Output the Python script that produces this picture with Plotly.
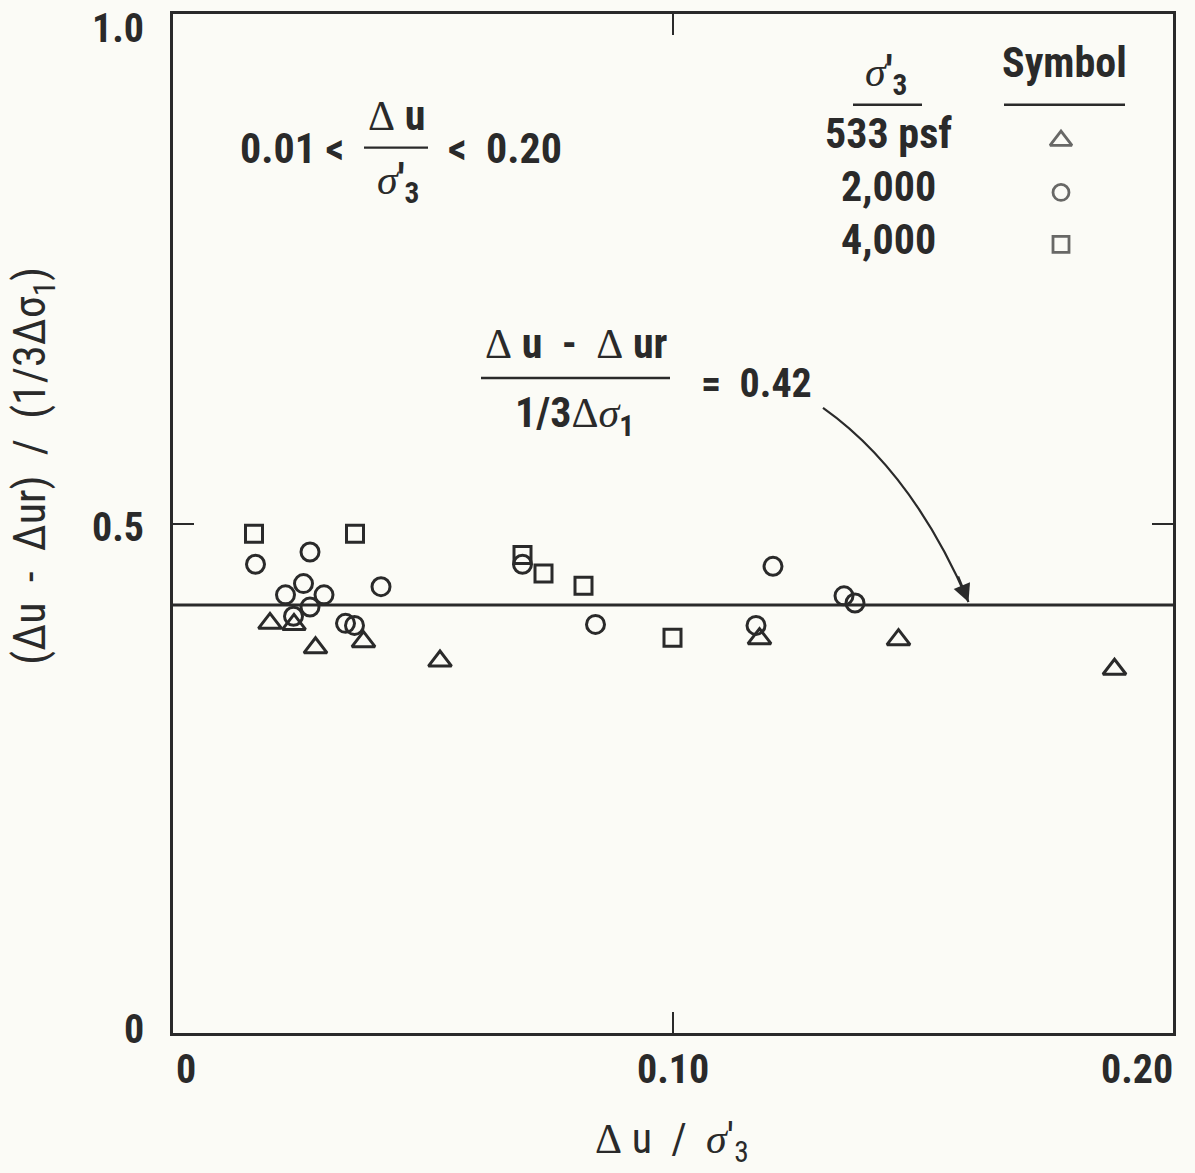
import plotly.graph_objects as go

# Δu/σ'3 (x) against (Δu - Δur)/(1/3 Δσ1) (y), grouped by confining pressure σ'3
tri_x = [0.0194, 0.0242, 0.0285, 0.0381, 0.0534, 0.1173, 0.1451, 0.1883]
tri_y = [0.402, 0.401, 0.378, 0.384, 0.365, 0.387, 0.386, 0.357]

cir_x = [0.0165, 0.0274, 0.0416, 0.0261, 0.0225, 0.0302, 0.0274, 0.0241,
         0.0345, 0.0363, 0.0699, 0.0845, 0.1200, 0.1166, 0.1342, 0.1364]
cir_y = [0.460, 0.472, 0.438, 0.441, 0.430, 0.430, 0.418, 0.409,
         0.402, 0.400, 0.460, 0.401, 0.458, 0.400, 0.429, 0.422]

sq_x = [0.0162, 0.0364, 0.0699, 0.0741, 0.0821, 0.0999]
sq_y = [0.490, 0.490, 0.469, 0.451, 0.439, 0.388]

# mean ratio drawn as a horizontal line
ratio_mean = 0.42

x_ticks = [0, 0.10, 0.20]
x_tick_text = ["0", "0.10", "0.20"]
y_ticks = [0, 0.5, 1.0]
y_tick_text = ["0", "0.5", "1.0"]

key_labels = ["533 psf", "2,000", "4,000"]
key_symbols = ["triangle-up", "circle", "square"]

INK = "#2a2a2a"
BG = "#fbfbf6"
SANS = "Roboto Condensed, Noto Sans, sans-serif"
SERIF = "Liberation Serif, DejaVu Serif, serif"

W, H = 1195, 1173
L, R, T, B = 173, 1173, 11, 1033


def px(x):
    return (x - L) / (R - L)


def py(y):
    return (B - y) / (B - T)


def serif(s, italic=False):
    s = f"<i>{s}</i>" if italic else s
    return f"<span style='font-family:{SERIF};font-weight:normal'>{s}</span>"


fig = go.Figure()

marker_line = dict(width=3, color=INK)
clear = "rgba(0,0,0,0)"
fig.add_trace(go.Scatter(x=tri_x, y=tri_y, mode="markers",
                         marker=dict(symbol="triangle-up", size=20, color=clear, line=marker_line)))
fig.add_trace(go.Scatter(x=cir_x, y=cir_y, mode="markers",
                         marker=dict(symbol="circle", size=18, color=clear, line=marker_line)))
fig.add_trace(go.Scatter(x=sq_x, y=sq_y, mode="markers",
                         marker=dict(symbol="square", size=17, color=clear, line=marker_line)))

# symbol key drawn on an overlay axis spanning the plot area
key_x = [px(1061)] * len(key_labels)
key_y = [py(138 + 52 * i) for i in range(len(key_labels))]
fig.add_trace(go.Scatter(x=key_x, y=key_y, mode="markers", xaxis="x2", yaxis="y2",
                         marker=dict(symbol=key_symbols, size=[19, 16, 16], color=clear,
                                     line=dict(width=2.8, color=INK))))

fig.add_shape(type="line", xref="x", yref="y", x0=x_ticks[0], x1=x_ticks[-1],
              y0=ratio_mean, y1=ratio_mean, line=dict(color=INK, width=3))

# curved pointer to the mean line
p0 = (0.1300, 0.6135)
c = (0.1478, 0.5519)
p2 = (0.1591, ratio_mean + 0.003)
fig.add_shape(type="path", xref="x", yref="y",
              path=f"M {p0[0]},{p0[1]} Q {c[0]},{c[1]} {p2[0]},{p2[1]}",
              line=dict(color=INK, width=2.2))

ann = []


def text(x, y, s, size=42, weight="bold", family=SANS, xanchor="center", **kw):
    ann.append(dict(x=px(x), y=py(y), xref="paper", yref="paper", text=s, showarrow=False,
                    xanchor=xanchor, yanchor="middle",
                    font=dict(family=family, size=size, color=INK, weight=weight), **kw))


# arrowhead
ann.append(dict(x=p2[0], y=p2[1], xref="x", yref="y", ax=-11, ay=-27, text="",
                showarrow=True, arrowhead=2, arrowsize=1.6, arrowwidth=2.2, arrowcolor=INK,
                standoff=0))

# tick labels
text(174, 1070, x_tick_text[0], size=40, xanchor="left")
text(673, 1070, x_tick_text[1], size=40)
text(1175, 1070, x_tick_text[2], size=40, xanchor="right")
text(146, 1029, y_tick_text[0], size=40, xanchor="right")
text(146, 526, y_tick_text[1], size=40, xanchor="right")
text(146, 26, y_tick_text[2], size=40, xanchor="right")

# axis titles
text(33, 464, "(Δu  -  Δur)  /  (1/3Δσ<sub>1</sub>)", size=44, weight="normal", textangle=-90)
text(672, 1142, f"{serif('Δ')} u  /  {serif('σ', True)}'<sub>3</sub>", size=42, weight="normal")

# range of Δu/σ'3 covered
text(346, 146, "0.01 <", xanchor="right")
text(396, 113, f"{serif('Δ')} u")
text(398, 180, f"{serif('σ', True)}'<sub>3</sub>")
text(446, 146, "<  0.20", xanchor="left")

# key header and rows
text(886, 72, f"{serif('σ', True)}'<sub>3</sub>")
text(1064, 60, "Symbol")
for i, lab in enumerate(key_labels):
    text(888, 131 + 53 * i, lab)

# fitted ratio
text(576, 341, f"{serif('Δ')} u  -  {serif('Δ')} ur")
text(574, 414, f"1/3{serif('Δ')}{serif('σ', True)}<sub>1</sub>")
text(699, 382, f"=  {ratio_mean:.2f}", size=40, xanchor="left")

for x0, x1, y in [(364, 428, 145), (481, 670, 376), (853, 922, 102), (1004, 1125, 102)]:
    fig.add_shape(type="line", xref="paper", yref="paper", x0=px(x0), x1=px(x1),
                  y0=py(y), y1=py(y), line=dict(color=INK, width=2.4))

axis_common = dict(showgrid=False, zeroline=False, showline=True, linecolor=INK, linewidth=3,
                   mirror="ticks", ticks="inside", ticklen=21, tickwidth=2.4, tickcolor=INK,
                   showticklabels=False)
fig.update_layout(
    width=W, height=H,
    margin=dict(l=L, r=W - R, t=T, b=H - B),
    paper_bgcolor=BG, plot_bgcolor=BG,
    showlegend=False,
    xaxis=dict(range=[x_ticks[0], x_ticks[-1]], tickvals=x_ticks, **axis_common),
    yaxis=dict(range=[y_ticks[0], y_ticks[-1]], tickvals=y_ticks, **axis_common),
    xaxis2=dict(range=[0, 1], overlaying="x", visible=False),
    yaxis2=dict(range=[0, 1], overlaying="y", visible=False),
    annotations=ann,
)

fig.write_html("out.html")
